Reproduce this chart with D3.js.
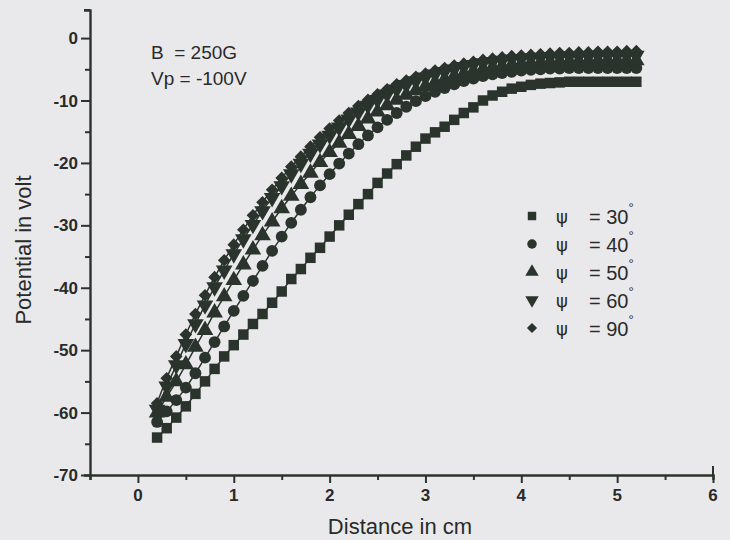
<!DOCTYPE html>
<html lang="en">
<head>
    <meta charset="UTF-8">
    <title>Potential vs distance</title>
    <script src="https://d3js.org/d3.v7.min.js"></script>
    <style>
        body { margin: 0; background: #e9e9eb; }
        svg { display: block; font-family: "Liberation Sans", Arial, sans-serif; }
    </style>
</head>
<body>
    <svg id="chart" width="730" height="540"></svg>

    <script>
        // distance (cm) of every measured point
        const distance = [0.2, 0.3, 0.4, 0.5, 0.6, 0.7, 0.8, 0.9, 1.0, 1.1, 1.2, 1.3, 1.4, 1.5, 1.6, 1.7,
            1.8, 1.9, 2.0, 2.1, 2.2, 2.3, 2.4, 2.5, 2.6, 2.7, 2.8, 2.9, 3.0, 3.1, 3.2, 3.3, 3.4, 3.5,
            3.6, 3.7, 3.8, 3.9, 4.0, 4.1, 4.2, 4.3, 4.4, 4.5, 4.6, 4.7, 4.8, 4.9, 5.0, 5.1, 5.2];

        const psi30 = [-64.0, -62.5, -60.8, -59.0, -57.0, -55.0, -53.0, -51.0, -49.2, -47.5, -45.8, -44.2,
            -42.4, -40.6, -38.6, -37.0, -35.2, -33.6, -31.8, -30.0, -28.3, -26.6, -25.0, -23.2, -21.7,
            -20.2, -18.8, -17.4, -16.1, -15.1, -14.2, -13.1, -12.0, -11.1, -10.0, -9.2, -8.6, -8.1,
            -7.8, -7.5, -7.3, -7.2, -7.1, -7.0, -7.0, -7.0, -7.0, -7.0, -7.0, -7.0, -7.0];

        const psi40 = [-61.5, -59.8, -58.0, -56.0, -53.7, -51.2, -48.7, -46.2, -43.7, -41.3, -38.9, -36.5,
            -34.1, -31.8, -29.6, -27.5, -25.5, -23.6, -21.8, -20.1, -18.5, -17.0, -15.6, -14.3, -13.1,
            -12.0, -11.0, -10.1, -9.3, -8.6, -8.0, -7.4, -6.9, -6.5, -6.1, -5.8, -5.6, -5.4,
            -5.2, -5.1, -5.0, -4.9, -4.9, -4.8, -4.8, -4.8, -4.8, -4.8, -4.8, -4.8, -4.8];

        const psi50 = [-60.0, -57.5, -55.0, -52.3, -49.5, -46.8, -44.0, -41.4, -38.8, -36.3, -33.9, -31.6,
            -29.4, -27.3, -25.3, -23.4, -21.6, -19.9, -18.3, -16.8, -15.4, -14.1, -12.9, -11.8, -10.8,
            -9.9, -9.1, -8.4, -7.7, -7.1, -6.6, -6.1, -5.7, -5.3, -5.0, -4.7, -4.5, -4.3,
            -4.1, -4.0, -3.9, -3.8, -3.8, -3.7, -3.7, -3.7, -3.6, -3.6, -3.6, -3.6, -3.6];

        const psi60 = [-59.5, -55.8, -52.4, -49.0, -45.8, -42.8, -39.9, -37.2, -34.6, -32.2, -29.9, -27.7,
            -25.6, -23.7, -21.8, -20.1, -18.5, -17.0, -15.6, -14.3, -13.0, -11.9, -10.8, -9.9, -9.0,
            -8.2, -7.5, -6.9, -6.3, -5.8, -5.4, -5.0, -4.6, -4.3, -4.0, -3.8, -3.6, -3.4,
            -3.3, -3.2, -3.1, -3.0, -3.0, -2.9, -2.9, -2.9, -2.8, -2.8, -2.8, -2.8, -2.8];

        const psi90 = [-58.5, -54.5, -51.0, -47.5, -44.2, -41.2, -38.3, -35.6, -33.1, -30.7, -28.4, -26.3,
            -24.3, -22.4, -20.6, -19.0, -17.4, -15.9, -14.5, -13.2, -12.0, -10.9, -9.9, -9.0, -8.2,
            -7.4, -6.8, -6.2, -5.7, -5.2, -4.8, -4.4, -4.1, -3.8, -3.5, -3.3, -3.1, -2.9,
            -2.8, -2.7, -2.6, -2.5, -2.4, -2.4, -2.3, -2.3, -2.2, -2.2, -2.2, -2.1, -2.1];

        const angles = ["30", "40", "50", "60", "90"];
        const xTicks = [0, 1, 2, 3, 4, 5, 6];
        const yTicks = [0, -10, -20, -30, -40, -50, -60, -70];

        function program() {
            const ink = "#2b332d";
            const txt = "#2a2a2a";
            const svg = d3.select("#chart");

            const x = d3.scaleLinear().domain([-0.5, 6]).range([90, 713]);
            const y = d3.scaleLinear().domain([-70, 4.5]).range([475, 10]);

            const series = [psi30, psi40, psi50, psi60, psi90];
            // diamond = square turned 45 degrees, like the scanned markers
            const shapes = [
                { type: d3.symbolSquare, size: 110, rot: 0 },
                { type: d3.symbolCircle, size: 110, rot: 0 },
                { type: d3.symbolTriangle, size: 120, rot: 0 },
                { type: d3.symbolTriangle, size: 120, rot: 180 },
                { type: d3.symbolSquare, size: 80, rot: 45 }
            ];

            // axes
            const xAxis = svg.append("g")
                .attr("transform", `translate(0,${y(-70)})`)
                .call(d3.axisBottom(x).tickValues(d3.range(-0.5, 6.01, 0.5)).tickSize(5).tickFormat(""));
            xAxis.selectAll(".tick line")
                .attr("y2", d => Number.isInteger(d) ? 8 : 5);
            xAxis.append("line").attr("x1", x(6)).attr("x2", x(6)).attr("y1", 0).attr("y2", -9).attr("stroke", ink).attr("stroke-width", 2);

            const yAxis = svg.append("g")
                .attr("transform", `translate(${x(-0.5)},0)`)
                .call(d3.axisLeft(y).tickValues(d3.range(-70, 4.6, 5)).tickFormat(""));
            yAxis.selectAll(".tick line")
                .attr("x2", d => d % 10 === 0 ? -9 : -5);
            yAxis.append("line").attr("x1", 0).attr("x2", -6).attr("y1", y(4.5)).attr("y2", y(4.5)).attr("stroke", ink).attr("stroke-width", 2);

            svg.selectAll(".domain").attr("stroke", ink).attr("stroke-width", 2.4);
            svg.selectAll(".tick line").attr("stroke", ink).attr("stroke-width", 2);

            svg.append("g").selectAll("text")
                .data(xTicks)
                .join("text")
                .attr("x", d => x(d))
                .attr("y", 501)
                .attr("text-anchor", "middle")
                .attr("font-size", 17)
                .attr("font-weight", "bold")
                .attr("fill", txt)
                .text(d => d);

            svg.append("g").selectAll("text")
                .data(yTicks)
                .join("text")
                .attr("x", 78)
                .attr("y", d => y(d) + 6)
                .attr("text-anchor", "end")
                .attr("font-size", 17)
                .attr("font-weight", "bold")
                .attr("fill", txt)
                .text(d => d);

            svg.append("text")
                .attr("x", 400).attr("y", 534)
                .attr("text-anchor", "middle")
                .attr("font-size", 22)
                .attr("fill", txt)
                .text("Distance in cm");

            svg.append("text")
                .attr("transform", "translate(31,250) rotate(-90)")
                .attr("text-anchor", "middle")
                .attr("font-size", 22)
                .attr("fill", txt)
                .text("Potential in volt");

            // condition labels
            svg.append("text").attr("x", 151).attr("y", 59).attr("font-size", 19).attr("fill", txt)
                .attr("xml:space", "preserve").text("B  = 250G");
            svg.append("text").attr("x", 151).attr("y", 85).attr("font-size", 19).attr("fill", txt)
                .text("Vp = -100V");

            // curves and markers
            const line = d3.line().x((d, i) => x(distance[i])).y(d => y(d)).curve(d3.curveMonotoneX);

            series.forEach((vals, k) => {
                svg.append("path")
                    .attr("d", line(vals))
                    .attr("fill", "none")
                    .attr("stroke", ink)
                    .attr("stroke-width", 1.5);

                const sym = d3.symbol().type(shapes[k].type).size(shapes[k].size);
                svg.append("g").selectAll("path")
                    .data(vals)
                    .join("path")
                    .attr("d", sym)
                    .attr("transform", (d, i) => `translate(${x(distance[i])},${y(d)}) rotate(${shapes[k].rot})`)
                    .attr("fill", ink);
            });

            // legend
            const legend = svg.append("g").attr("transform", "translate(532,216)");
            angles.forEach((a, k) => {
                const row = legend.append("g").attr("transform", `translate(0,${k * 28})`);
                row.append("path")
                    .attr("d", d3.symbol().type(shapes[k].type).size(shapes[k].size * 0.65))
                    .attr("transform", `rotate(${shapes[k].rot})`)
                    .attr("fill", ink);
                row.append("text").attr("x", 24).attr("y", 7)
                    .attr("font-family", "'DejaVu Sans', sans-serif").attr("font-size", 18).attr("fill", txt).text("ψ");
                const t = row.append("text").attr("x", 57).attr("y", 8).attr("font-size", 20).attr("fill", txt)
                    .attr("xml:space", "preserve").text("= " + a);
                t.append("tspan").attr("dy", -12).attr("font-size", 13).text("°");
            });
        }

        program();
    </script>
</body>
</html>
